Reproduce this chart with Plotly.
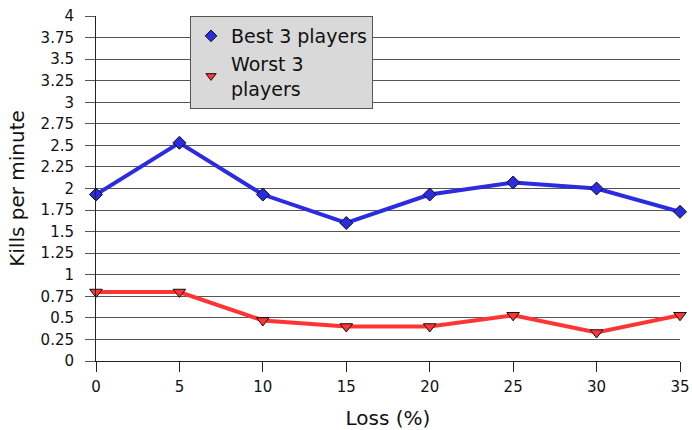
import plotly.graph_objects as go

# Kill rate under simulated packet loss
loss_pct = [0, 5, 10, 15, 20, 25, 30, 35]
best_players = [1.93, 2.53, 1.93, 1.60, 1.93, 2.07, 2.00, 1.73]
worst_players = [0.80, 0.80, 0.47, 0.40, 0.40, 0.53, 0.33, 0.53]
y_ticks = [0, 0.25, 0.5, 0.75, 1, 1.25, 1.5, 1.75, 2, 2.25, 2.5, 2.75, 3, 3.25, 3.5, 3.75, 4]

FONT = "DejaVu Sans"
BLUE = "#2b2be0"
RED = "#ff3535"

series = [
    ("Best 3 players", best_players, BLUE, "diamond", 10),
    ("Worst 3<br>players", worst_players, RED, "triangle-down", 11),
]

fig = go.Figure()
for name, values, color, symbol, size in series:
    marker = dict(symbol=symbol, size=size, color=color,
                  line=dict(color="#111111", width=1))
    # plotted line with markers
    fig.add_trace(go.Scatter(
        x=loss_pct, y=values, name=name, mode="lines+markers",
        line=dict(color=color, width=4), marker=marker,
        cliponaxis=False, showlegend=False, legendgroup=name,
    ))
    # legend entry shows the marker only
    fig.add_trace(go.Scatter(
        x=[None], y=[None], name=name, mode="markers",
        marker=dict(marker, size=9), legendgroup=name,
    ))

fig.update_layout(
    width=692, height=430,
    margin=dict(l=96, r=12, t=16, b=69),
    paper_bgcolor="white", plot_bgcolor="white",
    font=dict(family=FONT, size=15, color="#111111"),
    showlegend=True,
    legend=dict(
        x=0.161, y=1.0, xanchor="left", yanchor="top",
        bgcolor="#d9d9d9", bordercolor="#555555", borderwidth=1,
        font=dict(family=FONT, size=19, color="#111111"),
        itemwidth=30, tracegroupgap=0,
    ),
    xaxis=dict(
        range=[0, 35], tickvals=loss_pct, ticktext=[str(v) for v in loss_pct],
        showgrid=False, zeroline=False, automargin=False,
        showline=True, linecolor="#222222", linewidth=1,
        ticks="outside", ticklen=10, tickcolor="#222222",
        tickfont=dict(size=15), ticklabelstandoff=2,
        title=dict(text="Loss (%)", font=dict(size=20)),
    ),
    yaxis=dict(
        range=[0, 4], tickvals=y_ticks,
        ticktext=[f"{v:g}" for v in y_ticks],
        showgrid=True, gridcolor="#555555", gridwidth=1,
        zeroline=False, automargin=False,
        showline=True, linecolor="#222222", linewidth=1,
        ticks="outside", ticklen=10, tickcolor="#555555",
        tickfont=dict(size=15), ticklabelstandoff=8,
        title=dict(text="Kills per minute", font=dict(size=20), standoff=10),
    ),
)

fig.write_html("out.html")
